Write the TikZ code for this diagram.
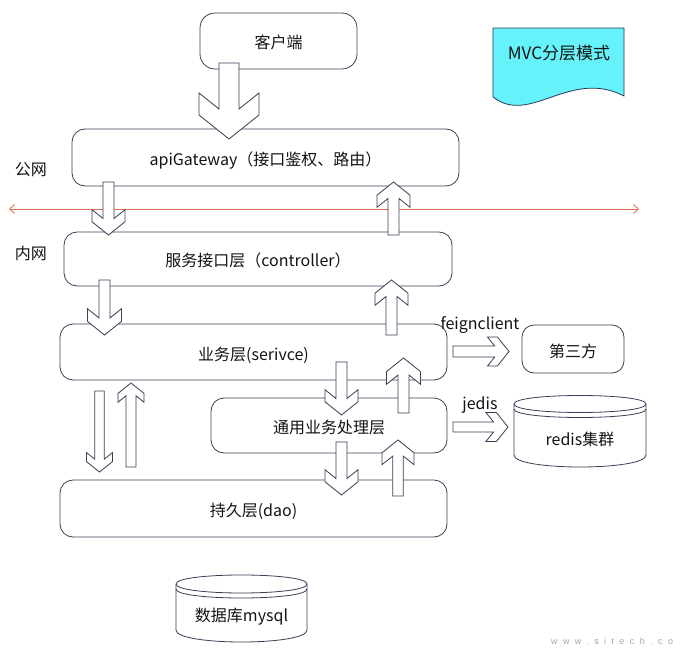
\documentclass[tikz,border=0pt]{standalone}
\usepackage{fontspec}
\setmainfont{Noto Sans CJK SC}
\newfontfamily\wmfont[LetterSpace=60]{Liberation Sans}
\usetikzlibrary{arrows.meta}
\definecolor{ln}{HTML}{3A3F55}
\definecolor{txt}{HTML}{141414}
\definecolor{redl}{HTML}{E07050}
\definecolor{mvc}{HTML}{66F2FA}
\definecolor{mvcb}{HTML}{2A3A5A}
\tikzset{
  layer/.style={draw=ln, line width=0.8pt, rounded corners=13pt, inner sep=0pt, text=txt,
    text height=18pt, text depth=2pt},
  lbl/.style={inner sep=0pt, text=txt},
  blk/.style={draw=ln, fill=white, line width=0.8pt, line join=miter},
  cyl/.style={draw=ln, fill=white, line width=0.8pt},
}
% vertical block arrow: cx, ystart, ytip, half head width, half shaft width
\newcommand\vblk[5]{%
  \pgfmathsetmacro\arD{#4-#5}%
  \pgfmathsetmacro\arS{(#3>#2)?1:-1}%
  \pgfmathsetmacro\arB{#3-\arS*(0.3*\arD+0.8*#4)}%
  \draw[blk] ({#1-#5},#2) -- ({#1-#5},\arB) -- ({#1-#4},{\arB-\arS*0.8*\arD})
    -- ({#1-#4},{\arB+\arS*0.3*\arD}) -- (#1,#3) -- ({#1+#4},{\arB+\arS*0.3*\arD})
    -- ({#1+#4},{\arB-\arS*0.8*\arD}) -- ({#1+#5},\arB) -- ({#1+#5},#2) -- cycle;}
% horizontal block arrow: cy, xstart, xtip, half head width, half shaft width
\newcommand\hblk[5]{%
  \pgfmathsetmacro\arD{#4-#5}%
  \pgfmathsetmacro\arS{(#3>#2)?1:-1}%
  \pgfmathsetmacro\arB{#3-\arS*(0.3*\arD+0.8*#4)}%
  \draw[blk] (#2,{#1-#5}) -- (\arB,{#1-#5}) -- ({\arB-\arS*0.8*\arD},{#1-#4})
    -- ({\arB+\arS*0.3*\arD},{#1-#4}) -- (#3,#1) -- ({\arB+\arS*0.3*\arD},{#1+#4})
    -- ({\arB-\arS*0.8*\arD},{#1+#4}) -- (\arB,{#1+#5}) -- (#2,{#1+#5}) -- cycle;}
% cylinder: cx, rx, ytop-centre, ry top, ybottom-centre, ry bottom
\newcommand\cylsh[6]{%
  \draw[cyl] ({#1-#2},#3) -- ({#1-#2},#5)
    .. controls ({#1-#2},{#5+1.333*#6}) and ({#1+#2},{#5+1.333*#6}) .. ({#1+#2},#5)
    -- ({#1+#2},#3)
    .. controls ({#1+#2},{#3-1.333*#4}) and ({#1-#2},{#3-1.333*#4}) .. cycle;
  \draw[draw=ln, line width=0.8pt] ({#1-#2},#3)
    .. controls ({#1-#2},{#3+1.333*#4}) and ({#1+#2},{#3+1.333*#4}) .. ({#1+#2},#3);
  \draw[draw=ln, line width=0.8pt] ({#1-#2},{#3+5})
    .. controls ({#1-#2},{#3+5+1.333*#4}) and ({#1+#2},{#3+5+1.333*#4}) .. ({#1+#2},{#3+5});}
\begin{document}
\begin{tikzpicture}[x=1pt,y=-1pt,font=\fontsize{16}{19}\selectfont]
\useasboundingbox (0,0) rectangle (681,650);
\fill[white] (0,0) rectangle (681,650);

% MVC document shape
\draw[fill=mvc, draw=mvcb, line width=0.8pt] (493,97) -- (493,28) -- (624,28) -- (624,96)
  .. controls (570,68) and (530,126) .. (493,97) -- cycle;
\node[lbl, font=\fontsize{17}{20}\selectfont] (mvct) at (559,53) {MVC分层模式};

% layers
\node[layer, rounded corners=15pt, minimum width=157, minimum height=56] (client) at (278.5,41) {客户端};
\node[layer, minimum width=387, minimum height=57] (gw) at (265.5,157.5) {apiGateway（接口鉴权、路由）};
\node[layer, minimum width=388, minimum height=54] (ctrl) at (258,259) {服务接口层（controller）};
\node[layer, minimum width=387, minimum height=56] (svc) at (253.5,352) {业务层(serivce)};
\node[layer, minimum width=236, minimum height=55] (common) at (329,425.5) {通用业务处理层};
\node[layer, minimum width=387, minimum height=57] (dao) at (253.5,508.5) {持久层(dao)};
\node[layer, rounded corners=12pt, minimum width=102, minimum height=48] (third) at (573,349) {第三方};

% side labels
\node[lbl] (pub) at (31,170) {公网};
\node[lbl] (pri) at (31,253) {内网};
\node[lbl] (feign) at (480,325) {feignclient};
\node[lbl] (jed) at (480,405) {jedis};

% public / private boundary
\coordinate (rl) at (9,209);
\coordinate (rr) at (639,209);
\draw[redl, line width=0.8pt, {Straight Barb[length=5pt,width=9pt]}-{Straight Barb[length=5pt,width=9pt]}] (rl) -- (rr);

% block arrows
\vblk{229}{63}{139}{30}{10}
\vblk{108.5}{182}{235}{16.5}{5.5}
\vblk{393.5}{235}{182}{16.5}{5.5}
\vblk{104.5}{280}{335}{17}{5.5}
\vblk{391.5}{335}{280}{16.5}{5.5}
\vblk{341.5}{362}{415}{16.5}{5.5}
\vblk{403.5}{413}{358}{17}{5.5}
\vblk{99.5}{391}{472}{13}{4.8}
\vblk{131}{467}{383}{13}{5}
\vblk{341.5}{442}{495}{16.5}{5.5}
\vblk{398}{496}{440}{16}{5.2}
\hblk{351.5}{453}{509}{14.5}{5.5}
\hblk{427}{453}{508}{14.5}{5}

% storage
\cylsh{580}{66}{404}{8.5}{455}{12}
\node[lbl] (redis) at (580,439) {redis集群};
\cylsh{241.5}{65.5}{584}{9}{630}{12}
\node[lbl] (mysql) at (241.5,617) {数据库mysql};

% watermark
\node[anchor=west, inner sep=0pt, text=black!35, font=\wmfont\fontsize{9}{11}\selectfont] (wm) at (551,641) {www.sitech.co};
\end{tikzpicture}
\end{document}
